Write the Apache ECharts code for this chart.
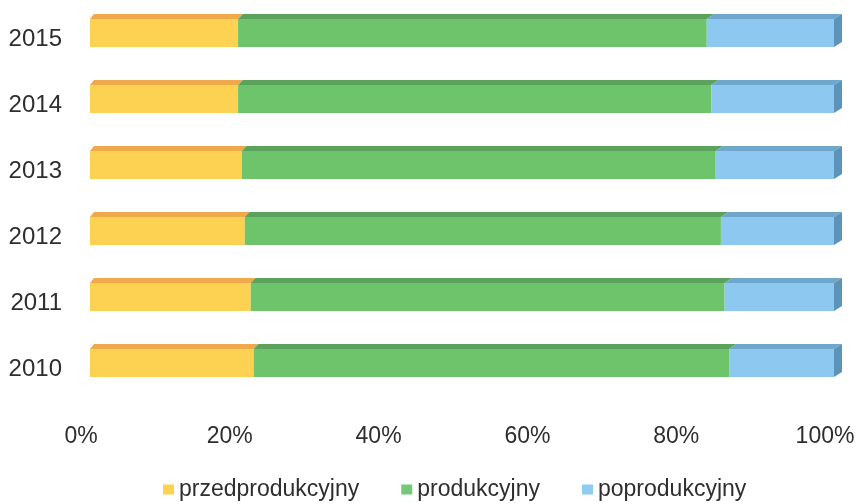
<!DOCTYPE html>
<html>
<head>
<meta charset="utf-8">
<script src="https://cdn.jsdelivr.net/npm/echarts@6/dist/echarts.min.js"></script>
<style>
html,body{margin:0;padding:0;background:#fff;}
#chart{width:858px;height:504px;}
</style>
</head>
<body>
<div id="chart"></div>
<script>
var years = ['2010', '2011', '2012', '2013', '2014', '2015'];
var przedprodukcyjny = [22.0, 21.6, 20.8, 20.4, 19.9, 19.9];
var produkcyjny = [63.9, 63.7, 64.0, 63.7, 63.6, 63.0];
var poprodukcyjny = [14.1, 14.7, 15.2, 15.9, 16.5, 17.1];
var xTicks = [0, 20, 40, 60, 80, 100];

var seriesNames = ['przedprodukcyjny', 'produkcyjny', 'poprodukcyjny'];
var frontColors = ['#FDD152', '#6DC46A', '#8CC8F0'];
var topColors = ['#EFA94B', '#5BA35C', '#6FA6CC'];
var sideColor = '#5E93B9';
var legendColors = ['#FFD24E', '#75C877', '#8FCBF2'];

var BAR_W = 28;
var DY = 5;

var faceData = years.map(function (y, i) {
  return [i, przedprodukcyjny[i], produkcyjny[i], poprodukcyjny[i]];
});

var chart = echarts.init(document.getElementById('chart'), null, {renderer: 'canvas'});

function dxAt(x, left, right) {
  return 4 + 4 * (x - left) / Math.max(1, right - left);
}

var FONT = 'Liberation Sans, Arial, sans-serif';

var option = {
  backgroundColor: '#ffffff',
  animation: false,
  textStyle: {fontFamily: FONT},
  grid: {left: 90, right: 24, top: 0, bottom: 108, containLabel: false},
  legend: {
    data: seriesNames.map(function (n, i) {
      return {name: n, itemStyle: {color: legendColors[i]}};
    }),
    left: 163,
    top: 478,
    padding: 0,
    icon: 'rect',
    itemWidth: 11,
    itemHeight: 10,
    itemGap: 42,
    textStyle: {fontSize: 23, color: '#2e2e2e', fontFamily: FONT}
  },
  xAxis: {
    type: 'value',
    min: xTicks[0],
    max: xTicks[xTicks.length - 1],
    interval: xTicks[1] - xTicks[0],
    axisLine: {show: false},
    axisTick: {show: false},
    splitLine: {show: false},
    axisLabel: {
      formatter: function (v) { return '{a|' + v + '%}'; },
      margin: 29,
      rich: {a: {fontSize: 23, color: '#2e2e2e', fontFamily: FONT, padding: [0, 18, 0, 0]}}
    }
  },
  yAxis: {
    type: 'category',
    data: years,
    axisLine: {show: false},
    axisTick: {show: false},
    splitLine: {show: false},
    axisLabel: {
      formatter: function (v) { return '{a|' + v + '}'; },
      margin: 28,
      rich: {a: {fontSize: 24, color: '#2e2e2e', fontFamily: FONT, padding: [13, 0, 0, 0]}}
    }
  },
  series: [
    {name: seriesNames[0], type: 'bar', stack: 'total', barWidth: BAR_W, data: przedprodukcyjny,
     itemStyle: {color: frontColors[0]}},
    {name: seriesNames[1], type: 'bar', stack: 'total', barWidth: BAR_W, data: produkcyjny,
     itemStyle: {color: frontColors[1]}},
    {name: seriesNames[2], type: 'bar', stack: 'total', barWidth: BAR_W, data: poprodukcyjny,
     itemStyle: {color: frontColors[2]}},
    {
      name: 'faces',
      type: 'custom',
      data: faceData,
      encode: {x: [1, 2, 3], y: 0},
      renderItem: function (params, api) {
        var cat = api.value(0);
        var vals = [api.value(1), api.value(2), api.value(3)];
        var p0 = api.coord([0, cat]);
        var p100 = api.coord([100, cat]);
        var left = p0[0], right = p100[0];
        var yc = p0[1];
        var yTop = yc - BAR_W / 2;
        var yBot = yc + BAR_W / 2;
        var children = [];
        var acc = 0;
        var lastX1 = left;
        for (var k = 0; k < 3; k++) {
          var xa = api.coord([acc, cat])[0];
          acc += vals[k];
          var xb = api.coord([acc, cat])[0];
          var da = dxAt(xa, left, right), db = dxAt(xb, left, right);
          children.push({
            type: 'polygon',
            shape: {points: [[xa, yTop], [xb, yTop], [xb + db, yTop - DY], [xa + da, yTop - DY]]},
            style: {fill: topColors[k]}
          });
          lastX1 = xb;
        }
        var ds = dxAt(lastX1, left, right);
        children.push({
          type: 'polygon',
          shape: {points: [[lastX1, yTop], [lastX1 + ds, yTop - DY], [lastX1 + ds, yBot - DY], [lastX1, yBot]]},
          style: {fill: sideColor}
        });
        return {type: 'group', children: children};
      },
      silent: true,
      z: 3
    }
  ]
};

chart.setOption(option);
</script>
</body>
</html>
